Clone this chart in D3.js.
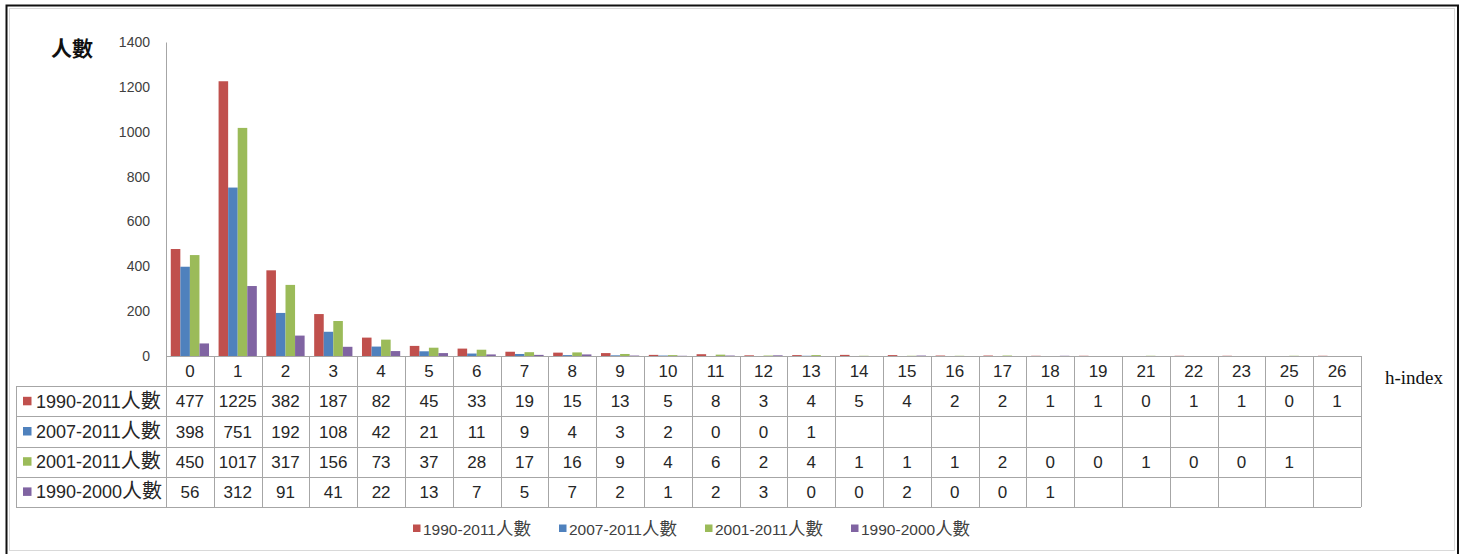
<!DOCTYPE html>
<html><head><meta charset="utf-8">
<script src="https://cdn.jsdelivr.net/npm/d3@7"></script>
<style>
html,body{margin:0;padding:0;background:#fff;}
svg{display:block;}
</style></head>
<body>
<svg id="chart" width="1464" height="554"></svg>
<script>
const categories = ["0","1","2","3","4","5","6","7","8","9","10","11","12","13","14","15","16","17","18","19","21","22","23","25","26"];
const seriesNames = ["1990-2011人數","2007-2011人數","2001-2011人數","1990-2000人數"];
const s1990_2011 = [477,1225,382,187,82,45,33,19,15,13,5,8,3,4,5,4,2,2,1,1,0,1,1,0,1];
const s2007_2011 = [398,751,192,108,42,21,11,9,4,3,2,0,0,1,null,null,null,null,null,null,null,null,null,null,null];
const s2001_2011 = [450,1017,317,156,73,37,28,17,16,9,4,6,2,4,1,1,1,2,0,0,1,0,0,1,null];
const s1990_2000 = [56,312,91,41,22,13,7,5,7,2,1,2,3,0,0,2,0,0,1,null,null,null,null,null,null];
const yTicks = [0,200,400,600,800,1000,1200,1400];
const seriesColors = ["#C0504D","#4F81BD","#9BBB59","#8064A2"];

(function(){
const allSeries = [s1990_2011, s2007_2011, s2001_2011, s1990_2000];
const svg = d3.select("#chart");
const FONT = "'Liberation Sans','Noto Sans CJK TC',sans-serif";
const CJK = "'Noto Sans CJK TC',sans-serif";

function mixed(g, xx, yy, str, size, cjkSize, fill){
  const m = str.match(/^([^\u4e00-\u9fff]*)(.*)$/);
  const t = g.append("text").attr("x",xx).attr("y",yy).attr("fill",fill);
  t.append("tspan").text(m[1]).attr("font-family",FONT).attr("font-size",size);
  t.append("tspan").text(m[2]).attr("font-family",CJK).attr("font-size",cjkSize);
  return t;
}

svg.append("rect").attr("x",0).attr("y",0).attr("width",1464).attr("height",554).attr("fill","#fff");
svg.append("rect").attr("x",6.5).attr("y",5.5).attr("width",1451.5).attr("height",560)
  .attr("fill","none").attr("stroke","#111").attr("stroke-width",2);
svg.append("rect").attr("x",9.5).attr("y",8.5).attr("width",1445).attr("height",542)
  .attr("fill","none").attr("stroke","#d9d9d9").attr("stroke-width",1);

const pLeft = 166, pRight = 1361, pTop = 42, base = 356;
const x = d3.scaleBand().domain(categories).range([pLeft,pRight]).paddingInner(0).paddingOuter(0);
const y = d3.scaleLinear().domain([0,1400]).range([base,pTop]);
const bw = x.bandwidth();
const inner = d3.scaleBand().domain(d3.range(4)).range([bw*0.1, bw*0.9]).padding(0);

const yAxis = d3.axisLeft(y).tickValues(yTicks).tickSize(0).tickPadding(16).tickFormat(d3.format("d"));
const ya = svg.append("g").attr("transform",`translate(${pLeft},0)`).call(yAxis);
ya.select(".domain").attr("stroke","#a6a6a6");
ya.selectAll("text").attr("font-family",FONT).attr("font-size",14).attr("fill","#404040");

svg.append("text").attr("x",51).attr("y",56).text("人數")
  .attr("font-family",CJK).attr("font-weight","bold").attr("font-size",21).attr("fill","#111");

allSeries.forEach((vals,si)=>{
  svg.append("g").selectAll("rect").data(vals.map((v,i)=>({v,c:categories[i]})).filter(d=>d.v!==null && d.v>0))
    .join("rect")
    .attr("x",d=>x(d.c)+inner(si))
    .attr("width",inner.bandwidth())
    .attr("y",d=>y(d.v))
    .attr("height",d=>Math.max(base-y(d.v),0))
    .attr("fill",seriesColors[si]);
});

const tLeft = 16, hdrTop = base, rowH = 30.2;
const grid = "#a6a6a6";
const tg = svg.append("g");
tg.append("line").attr("x1",pLeft).attr("x2",pRight).attr("y1",hdrTop+0.5).attr("y2",hdrTop+0.5).attr("stroke",grid);
categories.forEach(c=>{
  tg.append("text").attr("x",x(c)+bw/2).attr("y",hdrTop+rowH/2+6).attr("text-anchor","middle")
    .text(c).attr("font-family",FONT).attr("font-size",17).attr("fill","#262626");
});
for(let r=1;r<=5;r++){
  const yy = Math.round(hdrTop + r*rowH)+0.5;
  tg.append("line").attr("x1",tLeft).attr("x2",pRight).attr("y1",yy).attr("y2",yy).attr("stroke",grid);
}
const vx = categories.map(c=>x(c)).concat([pRight]);
vx.forEach(xx=>{
  tg.append("line").attr("x1",Math.round(xx)+0.5).attr("x2",Math.round(xx)+0.5)
    .attr("y1",hdrTop).attr("y2",hdrTop+5*rowH).attr("stroke",grid);
});
tg.append("line").attr("x1",tLeft+0.5).attr("x2",tLeft+0.5).attr("y1",hdrTop+rowH).attr("y2",hdrTop+5*rowH).attr("stroke",grid);
allSeries.forEach((vals,si)=>{
  const cy = hdrTop + (si+1)*rowH + rowH/2;
  tg.append("rect").attr("x",23).attr("y",cy-4.5).attr("width",8.5).attr("height",8.5).attr("fill",seriesColors[si]);
  mixed(tg, 36, cy+6.5, seriesNames[si], 18, 20, "#262626");
  vals.forEach((v,i)=>{
    if(v===null) return;
    tg.append("text").attr("x",x(categories[i])+bw/2).attr("y",cy+6).attr("text-anchor","middle")
      .text(v).attr("font-family",FONT).attr("font-size",17).attr("fill","#262626");
  });
});

svg.append("text").attr("x",1385).attr("y",384).text("h-index")
  .attr("font-family","'Liberation Serif',serif").attr("font-size",19).attr("fill","#111");

const legX = [413, 559, 705, 851];
seriesNames.forEach((n,i)=>{
  svg.append("rect").attr("x",legX[i]).attr("y",524.5).attr("width",7.5).attr("height",7.5).attr("fill",seriesColors[i]);
  mixed(svg, legX[i]+10, 535, n, 15.5, 17.5, "#404040");
});
})();
</script>
</body></html>
